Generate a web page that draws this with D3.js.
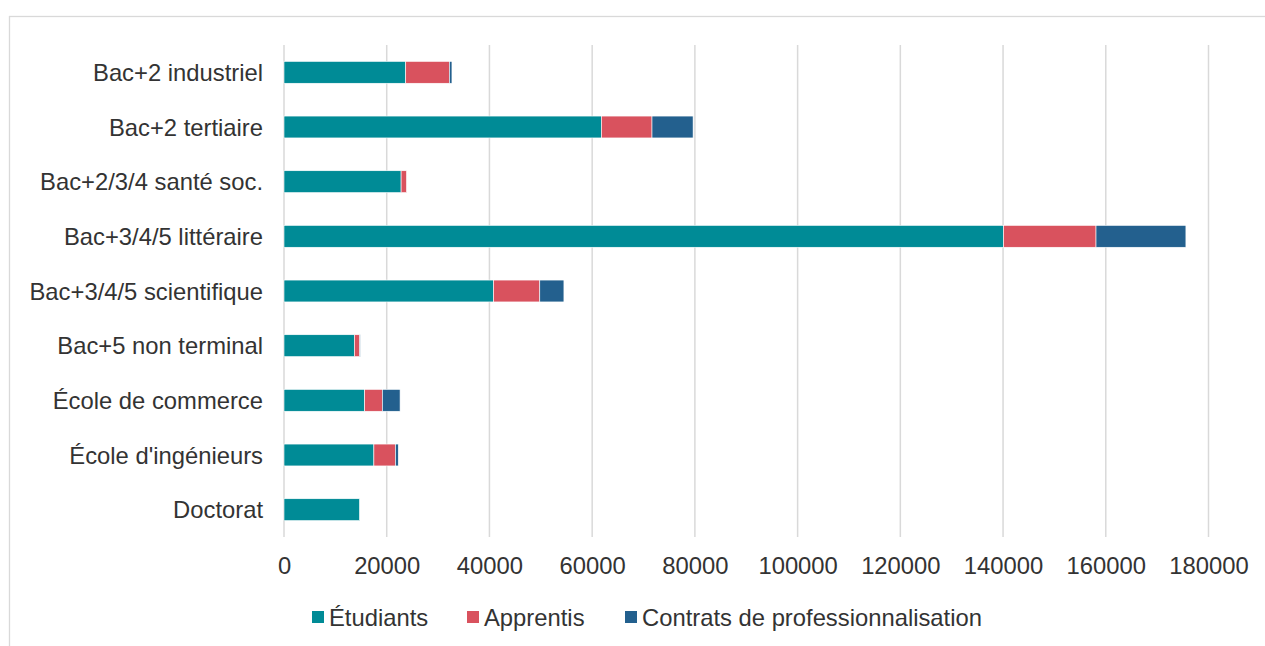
<!DOCTYPE html>
<html>
<head>
<meta charset="utf-8">
<script src="https://cdn.jsdelivr.net/npm/d3@7"></script>
<style>
  html, body { margin: 0; padding: 0; background: #fff; }
  svg { display: block; }
  text { font-family: "Liberation Sans", Arial, sans-serif; fill: #333; }
</style>
</head>
<body>
<svg id="chart" width="1265" height="646"></svg>
<script>
const categories = ["Bac+2 industriel", "Bac+2 tertiaire", "Bac+2/3/4 santé soc.", "Bac+3/4/5 littéraire",
  "Bac+3/4/5 scientifique", "Bac+5 non terminal", "École de commerce", "École d'ingénieurs", "Doctorat"];
const seriesNames = ["Étudiants", "Apprentis", "Contrats de professionnalisation"];
const etudiants = [23700, 61800, 22800, 140100, 40800, 13700, 15700, 17500, 14700];
const apprentis = [8500, 9850, 1050, 18000, 9000, 1050, 3450, 4200, 0];
const contrats = [500, 8000, 0, 17500, 4700, 100, 3450, 550, 0];
const tickValues = [0, 20000, 40000, 60000, 80000, 100000, 120000, 140000, 160000, 180000];
const colors = ["#008B96", "#D9525E", "#23608E"];

const svg = d3.select("#chart");
const W = 1265, H = 646;
const FS = "23.8px";

// frame
svg.append("rect").attr("x", 9.5).attr("y", 16.5).attr("width", W + 20).attr("height", H + 20)
  .attr("fill", "#fff").attr("stroke", "#d9d9d9").attr("stroke-width", 1.3);

const x = d3.scaleLinear().domain([0, 180000]).range([284, 1208.5]);
const y = d3.scaleBand().domain(categories).range([45, 537]).paddingInner(0.6).paddingOuter(0.3);

// gridlines
svg.append("g").selectAll("line").data(tickValues).join("line")
  .attr("x1", d => x(d)).attr("x2", d => x(d))
  .attr("y1", 45).attr("y2", 537)
  .attr("stroke", "#d9d9d9").attr("stroke-width", 1.5);

// tick labels via axis
const xAxis = d3.axisBottom(x).tickValues(tickValues).tickFormat(d3.format("d")).tickSize(0).tickPadding(0);
const gx = svg.append("g").attr("transform", "translate(0,557)").call(xAxis);
gx.select(".domain").remove();
gx.selectAll("text").attr("font-size", FS).attr("dy", "0.71em").attr("fill", "#333")
  .style("font-family", "'Liberation Sans', Arial, sans-serif");

// category labels via axis
const yAxis = d3.axisLeft(y).tickSize(0).tickPadding(0);
const gy = svg.append("g").attr("transform", "translate(263,1)").call(yAxis);
gy.select(".domain").remove();
gy.selectAll("text").attr("font-size", FS).attr("fill", "#333")
  .style("font-family", "'Liberation Sans', Arial, sans-serif");

// stacked data
const rows = categories.map((c, i) => ({ cat: c, s0: etudiants[i], s1: apprentis[i], s2: contrats[i] }));
const stack = d3.stack().keys(["s0", "s1", "s2"])(rows);

svg.append("g").selectAll("g").data(stack).join("g")
  .attr("fill", (d, i) => colors[i])
  .selectAll("rect").data(d => d.filter(v => v[1] - v[0] > 0)).join("rect")
  .attr("x", d => x(d[0]))
  .attr("width", d => x(d[1]) - x(d[0]))
  .attr("y", d => y(d.data.cat))
  .attr("height", y.bandwidth())
  .attr("stroke", "#fff").attr("stroke-width", 0.6);

// legend
const legendX = [312, 467, 625];
const lg = svg.append("g");
seriesNames.forEach((n, i) => {
  lg.append("rect").attr("x", legendX[i]).attr("y", 611).attr("width", 12).attr("height", 12).attr("fill", colors[i]);
  lg.append("text").attr("x", legendX[i] + 17).attr("y", 626).attr("font-size", FS).text(n);
});
</script>
</body>
</html>
